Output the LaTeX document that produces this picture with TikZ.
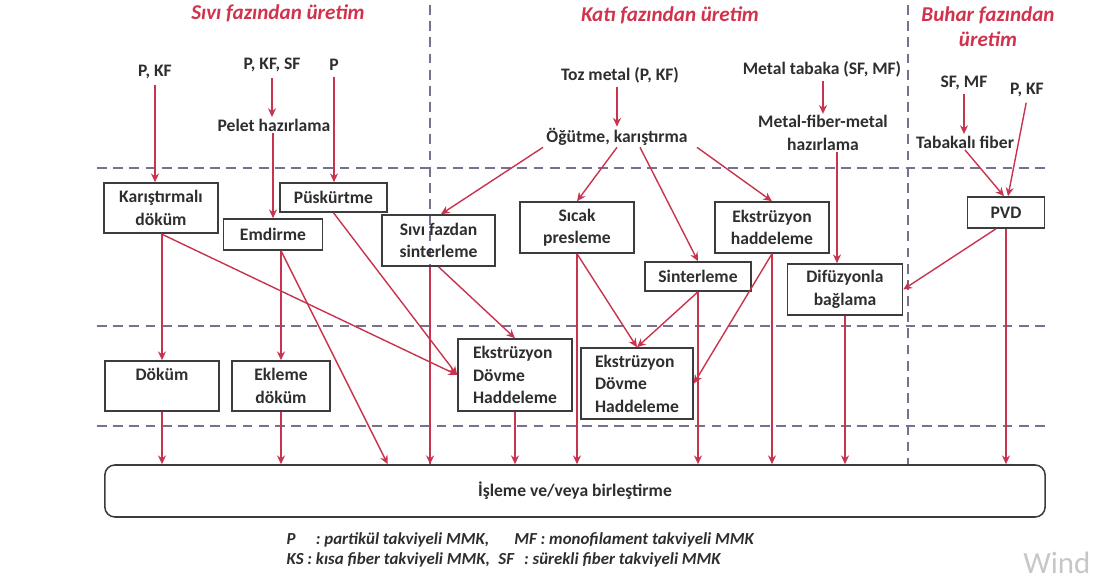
\documentclass[tikz,border=0pt]{standalone}
\usepackage{fontspec}
\setmainfont{Carlito}
\usetikzlibrary{arrows.meta}
\definecolor{seta}{HTML}{C8344E}
\definecolor{borda}{HTML}{3C3C3C}
\definecolor{divisa}{HTML}{77708E}
\definecolor{texto}{HTML}{2E2E2E}
\definecolor{titulo}{HTML}{D2334C}

\begin{document}
\begin{tikzpicture}[
    x=0.025cm, y=-0.025cm,
    >={Stealth[length=2.2mm,width=2mm]},
    font=\fontsize{12.5}{16}\selectfont\bfseries,
    caixa/.style={draw=borda, line width=1.1pt, align=center, inner sep=1pt, text=texto},
    rotulo/.style={align=center, inner sep=1pt, text=texto},
    fase/.style={align=center, inner sep=1pt, text=titulo, font=\fontsize{15}{18}\selectfont\bfseries\itshape},
    fluxo/.style={->, draw=seta, line width=1pt},
    divisa/.style={draw=divisa, line width=1.1pt, dash pattern=on 7pt off 4.5pt},
  ]
  \useasboundingbox (0,0) rectangle (1094,580);

  % Divisorias
  \draw[divisa] (430,5) -- (430,465);
  \draw[divisa] (908,5) -- (908,465);
  \draw[divisa] (97,168) -- (1050,168);
  \draw[divisa] (97,326) -- (1050,326);
  \draw[divisa] (97,426) -- (1050,426);

  % Titulos
  \node[fase] (tliq) at (278,13) {Sıvı fazından üretim};
  \node[fase] (tsol) at (670,15) {Katı fazından üretim};
  \node[fase] (tvap) at (988,27) {Buhar fazından\\üretim};

  % Entradas
  \node[rotulo] (pkfa) at (155,72) {P, KF};
  \node[rotulo] (pkfsf) at (272,65) {P, KF, SF};
  \node[rotulo] (pa) at (334,65) {P};
  \node[rotulo] (pelet) at (274,125) {Pelet hazırlama};
  \node[rotulo] (toz) at (620,75) {Toz metal (P, KF)};
  \node[rotulo] (ogut) at (617,137) {Öğütme, karıştırma};
  \node[rotulo] (tabaka) at (822,69) {Metal tabaka (SF, MF)};
  \node[rotulo] (mfm) at (823,133) {Metal-fiber-metal\\hazırlama};
  \node[rotulo] (sfmf) at (964,83) {SF, MF};
  \node[rotulo] (pkfb) at (1027,90) {P, KF};
  \node[rotulo] (tabfib) at (965,142) {Tabakalı fiber};

  % Caixas
  \node[caixa, minimum width=2.85cm, minimum height=1.25cm] (karis) at (161,208) {Karıştırmalı\\döküm};
  \node[caixa, minimum width=2.475cm, minimum height=0.775cm] (emdir) at (273,234.5) {Emdirme};
  \node[caixa, minimum width=2.675cm, minimum height=0.725cm] (puskur) at (333.5,197.5) {Püskürtme};
  \node[caixa, minimum width=2.825cm, minimum height=1.275cm] (sivisin) at (438.5,240.5) {Sıvı fazdan\\sinterleme};
  \node[caixa, minimum width=2.85cm, minimum height=1.275cm] (sicak) at (577,227.5) {Sıcak\\presleme};
  \node[caixa, minimum width=2.65cm, minimum height=0.725cm] (sinter) at (698,276.5) {Sinterleme};
  \node[caixa, minimum width=2.85cm, minimum height=1.275cm] (ekshad) at (772,227.5) {Ekstrüzyon\\haddeleme};
  \node[caixa, minimum width=2.875cm, minimum height=1.275cm] (difuz) at (845,289.5) {Difüzyonla\\bağlama};
  \node[caixa, minimum width=1.925cm, minimum height=0.775cm] (pvd) at (1006,212.5) {PVD};

  \node[caixa, minimum width=2.85cm, minimum height=1.25cm] (dokum) at (162,386) {Döküm\\\mbox{}};
  \node[caixa, minimum width=2.45cm, minimum height=1.25cm] (eklem) at (281,386) {Ekleme\\döküm};
  \node[caixa, align=left, minimum width=2.85cm, minimum height=1.8cm] (eksa) at (515,375) {Ekstrüzyon\\Dövme\\Haddeleme};
  \node[caixa, align=left, minimum width=2.8cm, minimum height=1.775cm] (eksb) at (637,383.5) {Ekstrüzyon\\Dövme\\Haddeleme};

  \node[caixa, rounded corners=0.25cm, minimum width=23.5cm, minimum height=1.3cm] (isleme) at (575,491) {İşleme ve/veya birleştirme};

  % Legenda
  \node[rotulo, anchor=west, align=left, font=\fontsize{12}{14.2}\selectfont\bfseries\itshape] (leg) at (285,550)
    {P\hspace{1.2em}: partikül takviyeli MMK,\hspace{1.5em}MF : monofilament takviyeli MMK\\
     KS : kısa fiber takviyeli MMK,\hspace{0.5em}SF\hspace{0.6em}: sürekli fiber takviyeli MMK};
  \node[anchor=west, inner sep=0pt, text=black!22, font=\fontsize{22}{24}\selectfont\mdseries] (marca) at (1023,563) {Wind};

  % Entradas -> preparo
  \draw[fluxo, shorten <=3pt] (pkfa.south) -- (pkfa.south |- karis.north);
  \draw[fluxo, shorten <=3pt] (pkfsf.south) -- (pkfsf.south |- pelet.north);
  \draw[fluxo] (pelet.south -| emdir.north) -- (emdir.north);
  \draw[fluxo, shorten <=3pt] (pa.south) -- (pa.south |- puskur.north);
  \draw[fluxo, shorten <=2pt] (toz.south -| ogut.north) -- (ogut.north);
  \draw[fluxo, shorten <=2pt] (tabaka.south -| mfm.north) -- (mfm.north);
  \draw[fluxo] ([xshift=0.35cm]mfm.south) -- ([xshift=0.35cm]mfm.south |- difuz.north);
  \draw[fluxo, shorten <=2pt] (sfmf.south) -- (sfmf.south |- tabfib.north);
  \draw[fluxo] (tabfib.south) -- ([xshift=-0.05cm]pvd.north);
  \draw[fluxo, shorten <=3pt] (pkfb.south) -- ([xshift=0.05cm]pvd.north);

  % Fase solida
  \draw[fluxo] ([xshift=-1.85cm]ogut.south) -- ([xshift=0.06cm]sivisin.north);
  \draw[fluxo] (ogut.south) -- (sicak.north);
  \draw[fluxo] ([xshift=0.575cm]ogut.south) -- (sinter.north);
  \draw[fluxo] ([xshift=2cm]ogut.south) -- (ekshad.north);
  \draw[fluxo] (sivisin.south) -- (eksa.north);
  \draw[fluxo] (sicak.south) -- (eksb.north);
  \draw[fluxo] (sinter.south) -- (eksb.north);
  \draw[fluxo] (ekshad.south) -- (eksb.east);

  % Fase liquida
  \draw[fluxo] (dokum.north |- karis.south) -- (dokum.north);
  \draw[fluxo] (karis.south) -- (eksa.west);
  \draw[fluxo] (eklem.north |- emdir.south) -- (eklem.north);
  \draw[fluxo] (puskur.south) -- (eksa.west);

  % Fase vapor
  \draw[fluxo] ([xshift=-0.25cm]pvd.south) -- (difuz.east);

  % Para o processamento final
  \draw[fluxo] (dokum.south) -- (dokum.south |- isleme.north);
  \draw[fluxo] (eklem.south) -- (eklem.south |- isleme.north);
  \draw[fluxo] (eklem.north |- emdir.south) -- ([xshift=-4.68cm]isleme.north);
  \draw[fluxo] ([xshift=-0.21cm]sivisin.south) -- ([xshift=-0.21cm]sivisin.south |- isleme.north);
  \draw[fluxo] (eksa.south) -- (eksa.south |- isleme.north);
  \draw[fluxo] (sicak.south) -- (sicak.south |- isleme.north);
  \draw[fluxo] (sinter.south) -- (sinter.south |- isleme.north);
  \draw[fluxo] (ekshad.south) -- (ekshad.south |- isleme.north);
  \draw[fluxo] (difuz.south) -- (difuz.south |- isleme.north);
  \draw[fluxo] (pvd.south) -- (pvd.south |- isleme.north);
\end{tikzpicture}
\end{document}
